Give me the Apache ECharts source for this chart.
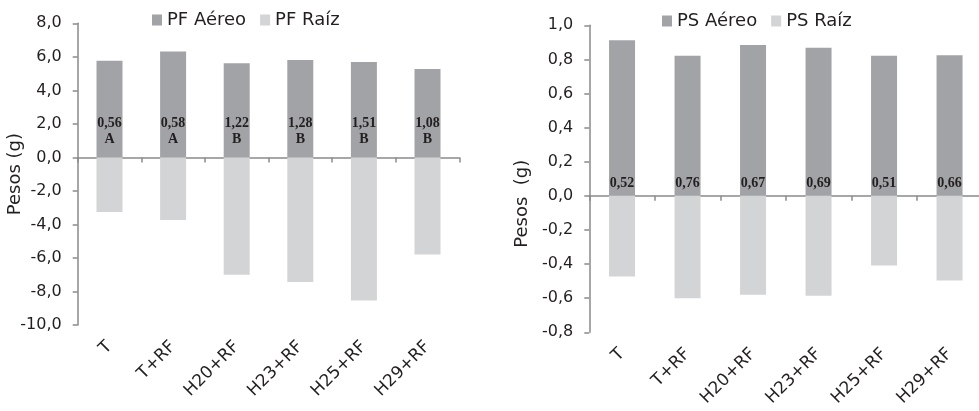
<!DOCTYPE html>
<html>
<head>
<meta charset="utf-8">
<script src="https://cdn.jsdelivr.net/npm/echarts@6/dist/echarts.min.js"></script>
<style>html,body{margin:0;padding:0;background:#fff}#c{width:979px;height:411px}</style>
</head>
<body>
<div id="c"></div>
<script>
const categories = ['T', 'T+RF', 'H20+RF', 'H23+RF', 'H25+RF', 'H29+RF'];
const pfAereo = [5.76, 6.32, 5.61, 5.81, 5.69, 5.27];
const pfRaiz = [-3.26, -3.74, -7.0, -7.43, -8.54, -5.80];
const psAereo = [0.913, 0.821, 0.885, 0.869, 0.821, 0.825];
const psRaiz = [-0.473, -0.600, -0.580, -0.586, -0.408, -0.496];
const pfNotes = ['0,56', '0,58', '1,22', '1,28', '1,51', '1,08'];
const pfLetters = ['A', 'A', 'B', 'B', 'B', 'B'];
const psNotes = ['0,52', '0,76', '0,67', '0,69', '0,51', '0,66'];

const DARK = '#a2a3a7', LIGHT = '#d3d4d6', AXIS = '#8a8a8a', TXT = '#231f20';
const SANS = 'DejaVu Sans';
const fmt = v => v.toFixed(1).replace('.', ',');

function labelAxis(gi) {
  return {
    type: 'category', gridIndex: gi, data: categories, position: 'bottom',
    axisLine: {show: false, onZero: false}, axisTick: {show: false},
    axisLabel: {rotate: 45, margin: 19, fontFamily: SANS, fontSize: 17, color: TXT, interval: 0}
  };
}
function zeroAxis(gi) {
  return {
    type: 'category', gridIndex: gi, data: categories, position: 'top',
    axisLine: {show: true, onZero: true, lineStyle: {color: AXIS, width: 1.5}},
    axisTick: {show: true, inside: true, length: 5, lineStyle: {color: AXIS, width: 1.5}},
    axisLabel: {show: false}
  };
}
function valAxis(gi, min, max, interval, name, gap, pad) {
  return {
    type: 'value', gridIndex: gi, min: min, max: max, interval: interval,
    name: name, nameLocation: 'middle', nameRotate: 90, nameGap: gap, nameMoveOverlap: false,
    nameTextStyle: {fontFamily: SANS, fontSize: 18, color: TXT, padding: pad},
    axisLine: {show: true, onZero: false, lineStyle: {color: AXIS, width: 1.5}},
    axisTick: {show: true, length: 5, lineStyle: {color: AXIS, width: 1.5}},
    splitLine: {show: false},
    axisLabel: {formatter: fmt, margin: 16, fontFamily: SANS, fontSize: 16, color: TXT}
  };
}
const noteStyle = {
  show: true, position: 'insideBottom', fontFamily: 'Liberation Serif', fontWeight: 'bold',
  fontSize: 14, lineHeight: 16, color: TXT
};

const chart = echarts.init(document.getElementById('c'));
chart.setOption({
  animation: false,
  backgroundColor: '#fff',
  legend: [
    {data: ['PF Aéreo', 'PF Raíz'], left: 147, top: 6, icon: 'rect', itemWidth: 10, itemHeight: 11, itemGap: 14,
     textStyle: {fontFamily: SANS, fontSize: 18, color: TXT}},
    {data: ['PS Aéreo', 'PS Raíz'], left: 657, top: 7, icon: 'rect', itemWidth: 10, itemHeight: 11, itemGap: 14,
     textStyle: {fontFamily: SANS, fontSize: 18, color: TXT}}
  ],
  grid: [
    {left: 77.7, top: 23.3, width: 381.6, height: 301.7, outerBoundsMode: 'none'},
    {left: 589.3, top: 25.3, width: 393, height: 307, outerBoundsMode: 'none'}
  ],
  xAxis: [labelAxis(0), zeroAxis(0), labelAxis(1), zeroAxis(1)],
  yAxis: [
    valAxis(0, -10, 8, 2, 'Pesos (g)', 53, [0, 0, 0, 0]),
    valAxis(1, -0.8, 1.0, 0.2, 'Pesos  (g)', 58, [0, 50, 0, 0])
  ],
  series: [
    {name: 'PF Aéreo', type: 'bar', xAxisIndex: 0, yAxisIndex: 0, stack: 'pf', barWidth: 26, data: pfAereo,
     itemStyle: {color: DARK},
     label: Object.assign({}, noteStyle, {distance: 10, formatter: p => pfNotes[p.dataIndex] + '\n' + pfLetters[p.dataIndex]})},
    {name: 'PF Raíz', type: 'bar', xAxisIndex: 0, yAxisIndex: 0, stack: 'pf', barWidth: 26, data: pfRaiz,
     itemStyle: {color: LIGHT}},
    {name: 'PS Aéreo', type: 'bar', xAxisIndex: 2, yAxisIndex: 1, stack: 'ps', barWidth: 26, data: psAereo,
     itemStyle: {color: DARK},
     label: Object.assign({}, noteStyle, {distance: 4, formatter: p => psNotes[p.dataIndex]})},
    {name: 'PS Raíz', type: 'bar', xAxisIndex: 2, yAxisIndex: 1, stack: 'ps', barWidth: 26, data: psRaiz,
     itemStyle: {color: LIGHT}}
  ]
});
</script>
</body>
</html>
